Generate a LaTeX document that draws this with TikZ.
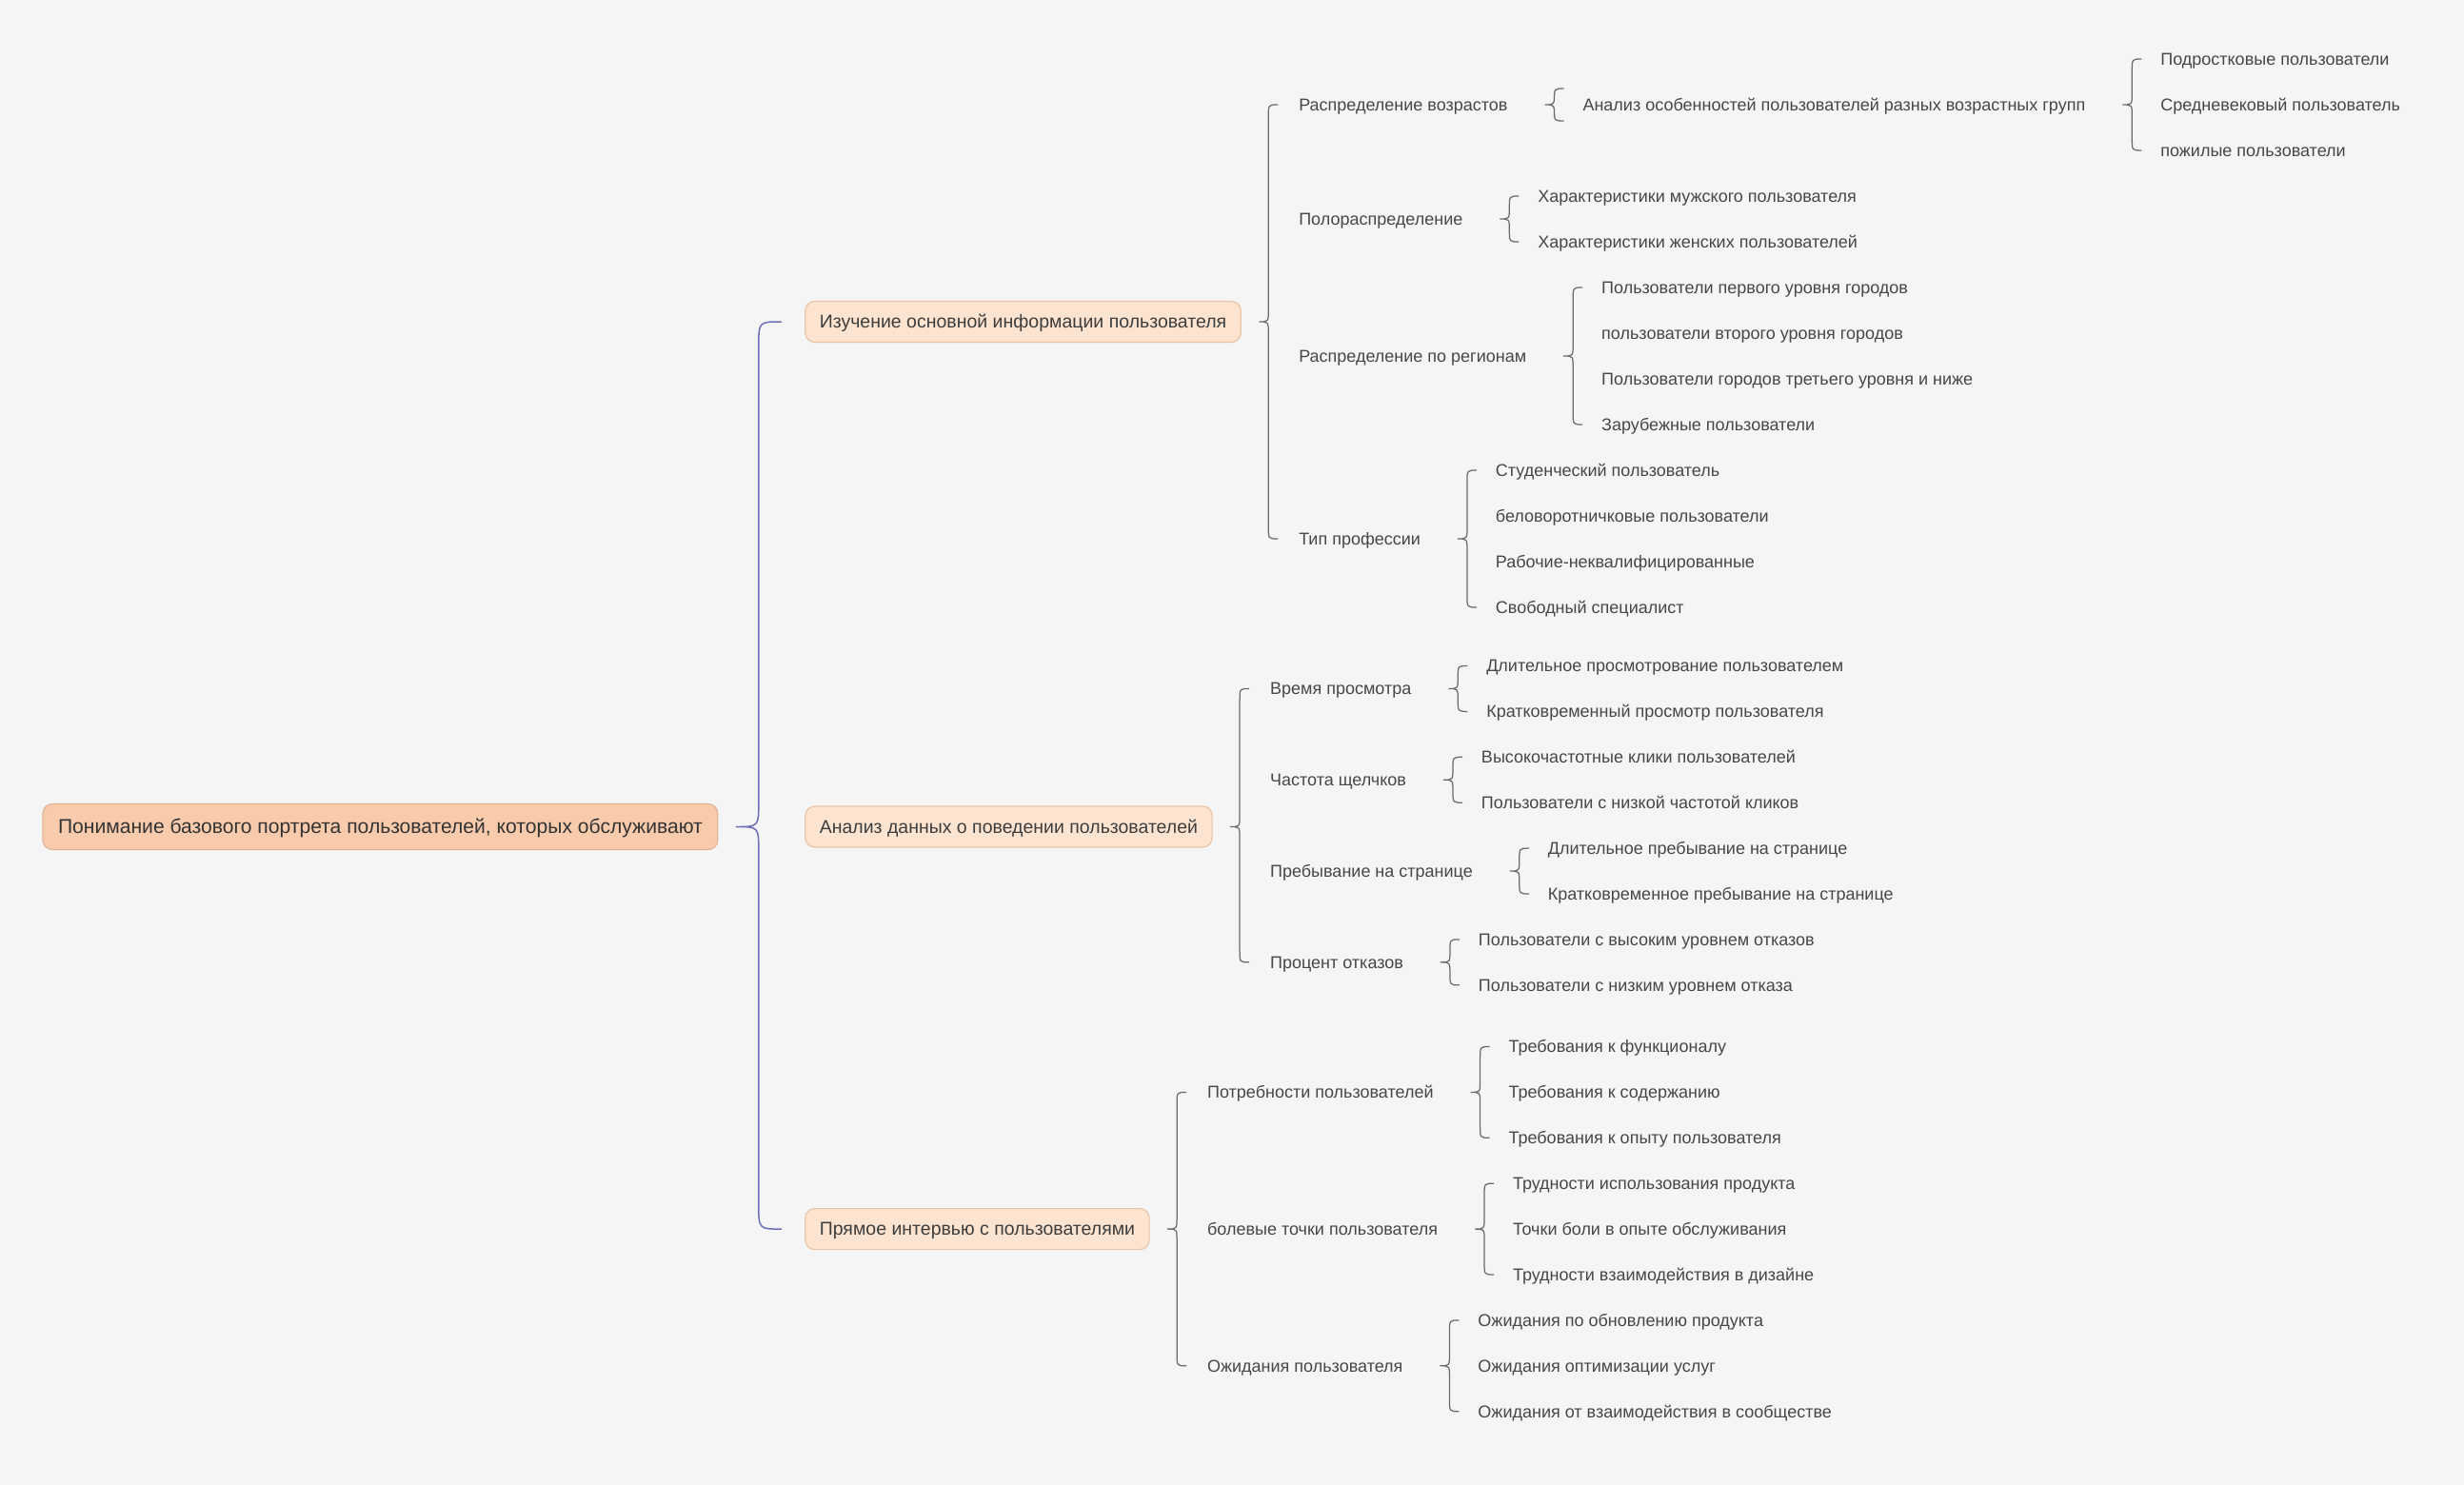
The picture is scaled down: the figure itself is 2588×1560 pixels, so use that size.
\documentclass[tikz,border=0pt]{standalone}
\usepackage{fontspec}
\setmainfont{Liberation Sans}
\usetikzlibrary{
    calc,
    positioning
}

\definecolor{bgcol}{HTML}{F5F5F5}
\definecolor{rootfill}{HTML}{F8CBAD}
\definecolor{rootdraw}{HTML}{E2B496}
\definecolor{topicfill}{HTML}{FDE4D0}
\definecolor{topicdraw}{HTML}{E8C4A8}
\definecolor{forkgray}{HTML}{6A6A6A}
\definecolor{forkpurple}{HTML}{6E6EB8}

\tikzset{
    rootbox/.style={draw=rootdraw, fill=rootfill, line width=1.2pt, rounded corners=10pt,
        text=black!80, font=\fontsize{21.1}{25}\selectfont, text height=15.8pt, text depth=1pt,
        inner xsep=16pt, inner ysep=15.6pt, outer sep=0pt},
    topicbox/.style={draw=topicdraw, fill=topicfill, line width=1.2pt, rounded corners=10pt,
        text=black!76, font=\fontsize{19.5}{23}\selectfont, text height=14.6pt, text depth=1pt,
        inner xsep=15pt, inner ysep=13.7pt, outer sep=0pt},
    itemtext/.style={text=black!72, font=\fontsize{18}{21}\selectfont, text height=13.8pt,
        text depth=0.9pt, inner xsep=20pt, inner ysep=4pt, outer sep=0pt},
    forkline/.style={draw=forkgray, line width=1.25pt},
    rootfork/.style={draw=forkpurple, line width=1.5pt}
}

\newcommand{\mmfork}[5][forkline]{%
    \coordinate (fp) at ($(#2.east)+(19,0)$);
    \coordinate (fv) at ($(fp)+(#5,0)$);
    \coordinate (fe) at ($(fv)+(#5,0)$);
    \draw[#1] (fe |- #3) .. controls (fv |- #3) .. ($(fv |- #3)+(0,#5+2)$)
        -- ($(fv |- fp)+(0,-#5-2)$) .. controls (fv |- fp) .. (fp)
        .. controls (fv |- fp) .. ($(fv |- fp)+(0,#5+2)$)
        -- ($(fv |- #4)+(0,-#5-2)$) .. controls (fv |- #4) .. (fe |- #4);
}

\begin{document}
\begin{tikzpicture}[x=1pt, y=-1pt, node distance=39pt]
    \fill[bgcol] (0,0) rectangle (2588,1560);
    \useasboundingbox (0,0) rectangle (2588,1560);

    \node[rootbox, anchor=west] (root) at (45,868.5) {Понимание базового портрета пользователей, которых обслуживают};

    \node[topicbox, right=92pt of root, yshift=530.5pt] (info) {Изучение основной информации пользователя};
    \node[topicbox, right=92pt of root] (behav) {Анализ данных о поведении пользователей};
    \node[topicbox, right=92pt of root, yshift=-422.6pt] (interview) {Прямое интервью с пользователями};

    \node[itemtext, right=41pt of info, yshift=228pt] (age) {Распределение возрастов};
    \node[itemtext, right=41pt of info, yshift=108pt] (gender) {Полораспределение};
    \node[itemtext, right=41pt of info, yshift=-36pt] (region) {Распределение по регионам};
    \node[itemtext, right=41pt of info, yshift=-228pt] (prof) {Тип профессии};

    \node[itemtext, right=of age] (ana) {Анализ особенностей пользователей разных возрастных групп};
    \node[itemtext, right=of ana, yshift=48pt] (teen) {Подростковые пользователи};
    \node[itemtext, right=of ana] (midage) {Средневековый пользователь};
    \node[itemtext, right=of ana, yshift=-48pt] (elder) {пожилые пользователи};

    \node[itemtext, right=of gender, yshift=24pt] (male) {Характеристики мужского пользователя};
    \node[itemtext, right=of gender, yshift=-24pt] (female) {Характеристики женских пользователей};

    \node[itemtext, right=of region, yshift=72pt] (city1) {Пользователи первого уровня городов};
    \node[itemtext, right=of region, yshift=24pt] (city2) {пользователи второго уровня городов};
    \node[itemtext, right=of region, yshift=-24pt] (city3) {Пользователи городов третьего уровня и ниже};
    \node[itemtext, right=of region, yshift=-72pt] (abroad) {Зарубежные пользователи};

    \node[itemtext, right=of prof, yshift=72pt] (student) {Студенческий пользователь};
    \node[itemtext, right=of prof, yshift=24pt] (office) {беловоротничковые пользователи};
    \node[itemtext, right=of prof, yshift=-24pt] (worker) {Рабочие-неквалифицированные};
    \node[itemtext, right=of prof, yshift=-72pt] (freelance) {Свободный специалист};

    \node[itemtext, right=41pt of behav, yshift=145.05pt] (view) {Время просмотра};
    \node[itemtext, right=41pt of behav, yshift=49.25pt] (click) {Частота щелчков};
    \node[itemtext, right=41pt of behav, yshift=-46.55pt] (stay) {Пребывание на странице};
    \node[itemtext, right=41pt of behav, yshift=-142.35pt] (bounce) {Процент отказов};

    \node[itemtext, right=of view, yshift=23.95pt] (viewlong) {Длительное просмотрование пользователем};
    \node[itemtext, right=of view, yshift=-23.95pt] (viewshort) {Кратковременный просмотр пользователя};
    \node[itemtext, right=of click, yshift=23.95pt] (clickhigh) {Высокочастотные клики пользователей};
    \node[itemtext, right=of click, yshift=-23.95pt] (clicklow) {Пользователи с низкой частотой кликов};
    \node[itemtext, right=of stay, yshift=23.95pt] (staylong) {Длительное пребывание на странице};
    \node[itemtext, right=of stay, yshift=-23.95pt] (stayshort) {Кратковременное пребывание на странице};
    \node[itemtext, right=of bounce, yshift=23.95pt] (bouncehigh) {Пользователи с высоким уровнем отказов};
    \node[itemtext, right=of bounce, yshift=-23.95pt] (bouncelow) {Пользователи с низким уровнем отказа};

    \node[itemtext, right=41pt of interview, yshift=143.7pt] (needs) {Потребности пользователей};
    \node[itemtext, right=41pt of interview] (pain) {болевые точки пользователя};
    \node[itemtext, right=41pt of interview, yshift=-143.7pt] (expect) {Ожидания пользователя};

    \node[itemtext, right=of needs, yshift=47.9pt] (needfunc) {Требования к функционалу};
    \node[itemtext, right=of needs] (needcont) {Требования к содержанию};
    \node[itemtext, right=of needs, yshift=-47.9pt] (needux) {Требования к опыту пользователя};
    \node[itemtext, right=of pain, yshift=47.9pt] (painuse) {Трудности использования продукта};
    \node[itemtext, right=of pain] (painserv) {Точки боли в опыте обслуживания};
    \node[itemtext, right=of pain, yshift=-47.9pt] (paindes) {Трудности взаимодействия в дизайне};
    \node[itemtext, right=of expect, yshift=47.9pt] (expupd) {Ожидания по обновлению продукта};
    \node[itemtext, right=of expect] (expopt) {Ожидания оптимизации услуг};
    \node[itemtext, right=of expect, yshift=-47.9pt] (expcomm) {Ожидания от взаимодействия в сообществе};

    \coordinate (anatop) at ($(ana.west)+(0,-17)$);
    \coordinate (anabot) at ($(ana.west)+(0,17)$);

    \mmfork[rootfork]{root}{info.west}{interview.west}{24}
    \mmfork{info}{age.west}{prof.west}{10}
    \mmfork{age}{anatop}{anabot}{10}
    \mmfork{ana}{teen.west}{elder.west}{10}
    \mmfork{gender}{male.west}{female.west}{10}
    \mmfork{region}{city1.west}{abroad.west}{10}
    \mmfork{prof}{student.west}{freelance.west}{10}
    \mmfork{behav}{view.west}{bounce.west}{10}
    \mmfork{view}{viewlong.west}{viewshort.west}{10}
    \mmfork{click}{clickhigh.west}{clicklow.west}{10}
    \mmfork{stay}{staylong.west}{stayshort.west}{10}
    \mmfork{bounce}{bouncehigh.west}{bouncelow.west}{10}
    \mmfork{interview}{needs.west}{expect.west}{10}
    \mmfork{needs}{needfunc.west}{needux.west}{10}
    \mmfork{pain}{painuse.west}{paindes.west}{10}
    \mmfork{expect}{expupd.west}{expcomm.west}{10}
\end{tikzpicture}
\end{document}
